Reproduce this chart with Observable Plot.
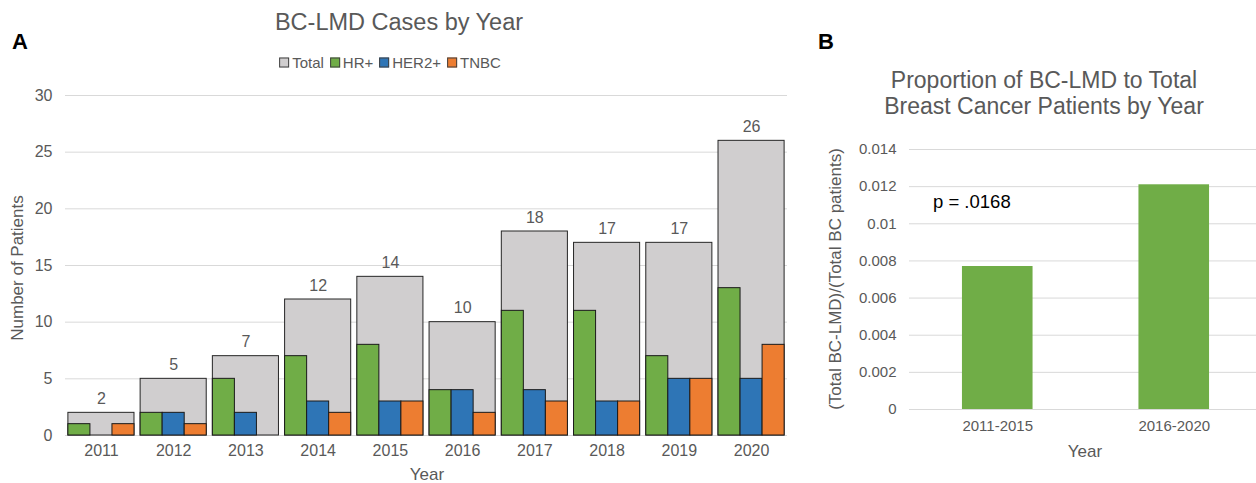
<!DOCTYPE html>
<html>
<head>
<meta charset="utf-8">
<script src="https://cdn.jsdelivr.net/npm/d3@7"></script>
<script src="https://cdn.jsdelivr.net/npm/@observablehq/plot@0.6"></script>
<style>
  body { margin: 0; background: #fff; }
  #wrap { position: relative; width: 1256px; height: 483px; overflow: hidden; font-family: "Liberation Sans", Arial, sans-serif; color: #595959; }
  .abs { position: absolute; white-space: nowrap; }
  .plot { position: absolute; top: 0; }
  .leg { display: flex; align-items: center; font-size: 15px; color: #595959; }
  .leg span.sw { display: inline-block; width: 8px; height: 8px; border: 1px solid #404040; margin-right: 3px; }
  .leg span.it { display: flex; align-items: center; margin-right: 6px; }
</style>
</head>
<body>
<div id="wrap"></div>
<script>
// ---- data ----
const years = ["2011","2012","2013","2014","2015","2016","2017","2018","2019","2020"];
const total = [2,5,7,12,14,10,18,17,17,26];
const hrPos = [1,2,5,7,8,4,11,11,7,13];
const her2Pos = [0,2,2,3,3,4,4,3,5,5];
const tnbc = [1,1,0,2,3,2,3,3,5,8];
const yTicksA = [0,5,10,15,20,25,30];

const periods = ["2011-2015","2016-2020"];
const proportion = [0.0077, 0.0121];
const yTicksB = [0,0.002,0.004,0.006,0.008,0.010,0.012,0.014];

const seriesNames = ["Total","HR+","HER2+","TNBC"];
const seriesColors = ["#d0cecf","#70ad47","#2e75b6","#ed7d31"];

const wrap = document.getElementById("wrap");
const grey = "#595959", grid = "#d9d9d9";

// ---- Panel A ----
const A = {width: 800, height: 483, ml: 65, mr: 13, mt: 95, mb: 48};
const padIn = 0.085, padOut = 0.04;
const bw = d3.scaleBand().domain(years).range([A.ml, A.width - A.mr]).paddingInner(padIn).paddingOuter(padOut).bandwidth();
const third = bw / 3;
const totRows = years.map((y, i) => ({year: y, v: total[i]}));
const mk = arr => years.map((y, i) => ({year: y, v: arr[i]})).filter(d => d.v > 0);

const plotA = Plot.plot({
  width: A.width, height: A.height,
  marginLeft: A.ml, marginRight: A.mr, marginTop: A.mt, marginBottom: A.mb,
  style: {fontFamily: "Liberation Sans, Arial, sans-serif", fontSize: "16px", color: grey, background: "transparent"},
  x: {domain: years, paddingInner: padIn, paddingOuter: padOut, round: false, label: null, tickSize: 0, tickPadding: 9},
  y: {domain: [0, 30], ticks: yTicksA, label: null, tickSize: 0, tickPadding: 13},
  marks: [
    Plot.ruleY(yTicksA, {stroke: grid, strokeWidth: 1}),
    Plot.barY(totRows, {x: "year", y: "v", fill: seriesColors[0], stroke: "#262626", strokeWidth: 1}),
    Plot.barY(mk(hrPos), {x: "year", y: "v", fill: seriesColors[1], stroke: "#1a1a1a", strokeWidth: 1, insetRight: 2 * third}),
    Plot.barY(mk(her2Pos), {x: "year", y: "v", fill: seriesColors[2], stroke: "#1a1a1a", strokeWidth: 1, insetLeft: third, insetRight: third}),
    Plot.barY(mk(tnbc), {x: "year", y: "v", fill: seriesColors[3], stroke: "#1a1a1a", strokeWidth: 1, insetLeft: 2 * third}),
    Plot.text(totRows, {x: "year", y: "v", text: d => String(d.v), dy: -14, fill: grey, fontSize: 16})
  ]
});
plotA.classList.add("plot");
plotA.style.left = "0px";
wrap.appendChild(plotA);

// ---- Panel B ----
const B = {left: 800, width: 456, height: 483, ml: 109, mr: 0, mt: 149, mb: 74};
const propRows = periods.map((p, i) => ({p, v: proportion[i]}));
const plotB = Plot.plot({
  width: B.width, height: B.height,
  marginLeft: B.ml, marginRight: B.mr, marginTop: B.mt, marginBottom: B.mb,
  style: {fontFamily: "Liberation Sans, Arial, sans-serif", fontSize: "15px", color: grey, background: "transparent"},
  x: {domain: periods, range: [B.ml, 462], paddingInner: 0.6, paddingOuter: 0.3, round: false, label: null, tickSize: 0, tickPadding: 11},
  y: {domain: [0, 0.014], ticks: yTicksB, tickFormat: d3.format("~g"), label: null, tickSize: 0, tickPadding: 13},
  marks: [
    Plot.ruleY(yTicksB, {stroke: grid, strokeWidth: 1}),
    Plot.barY(propRows, {x: "p", y: "v", fill: "#70ad47"})
  ]
});
plotB.classList.add("plot");
plotB.style.left = B.left + "px";
wrap.appendChild(plotB);

// ---- text overlays ----
function addText(html, css) {
  const d = document.createElement("div");
  d.className = "abs";
  d.innerHTML = html;
  Object.assign(d.style, css);
  wrap.appendChild(d);
  return d;
}
addText("A", {left: "12px", top: "29px", fontSize: "22px", fontWeight: "bold", color: "#000"});
addText("B", {left: "818px", top: "29px", fontSize: "22px", fontWeight: "bold", color: "#000"});
addText("BC-LMD Cases by Year", {left: "399px", top: "22px", transform: "translate(-50%,-50%)", fontSize: "23.5px", color: grey});
addText("Proportion of BC-LMD to Total<br>Breast Cancer Patients by Year", {left: "1044px", top: "67px", transform: "translateX(-50%)", fontSize: "23px", color: grey, textAlign: "center", lineHeight: "26px"});
addText("Number of Patients", {left: "18px", top: "268px", transform: "translate(-50%,-50%) rotate(-90deg)", fontSize: "17px", color: grey});
addText("(Total BC-LMD)/(Total BC patients)", {left: "836px", top: "279px", transform: "translate(-50%,-50%) rotate(-90deg)", fontSize: "17px", color: grey});
addText("Year", {left: "427px", top: "475px", transform: "translate(-50%,-50%)", fontSize: "17px", color: grey});
addText("Year", {left: "1085px", top: "452px", transform: "translate(-50%,-50%)", fontSize: "17px", color: grey});
addText("p = .0168", {left: "933px", top: "202px", transform: "translateY(-50%)", fontSize: "18.5px", color: "#000"});

// legend
const leg = document.createElement("div");
leg.className = "abs leg";
Object.assign(leg.style, {left: "393px", top: "62px", transform: "translate(-50%,-50%)"});
seriesNames.forEach((n, i) => {
  const it = document.createElement("span");
  it.className = "it";
  const sw = document.createElement("span");
  sw.className = "sw";
  sw.style.background = seriesColors[i];
  it.appendChild(sw);
  it.appendChild(document.createTextNode(n));
  leg.appendChild(it);
});
wrap.appendChild(leg);
</script>
</body>
</html>
